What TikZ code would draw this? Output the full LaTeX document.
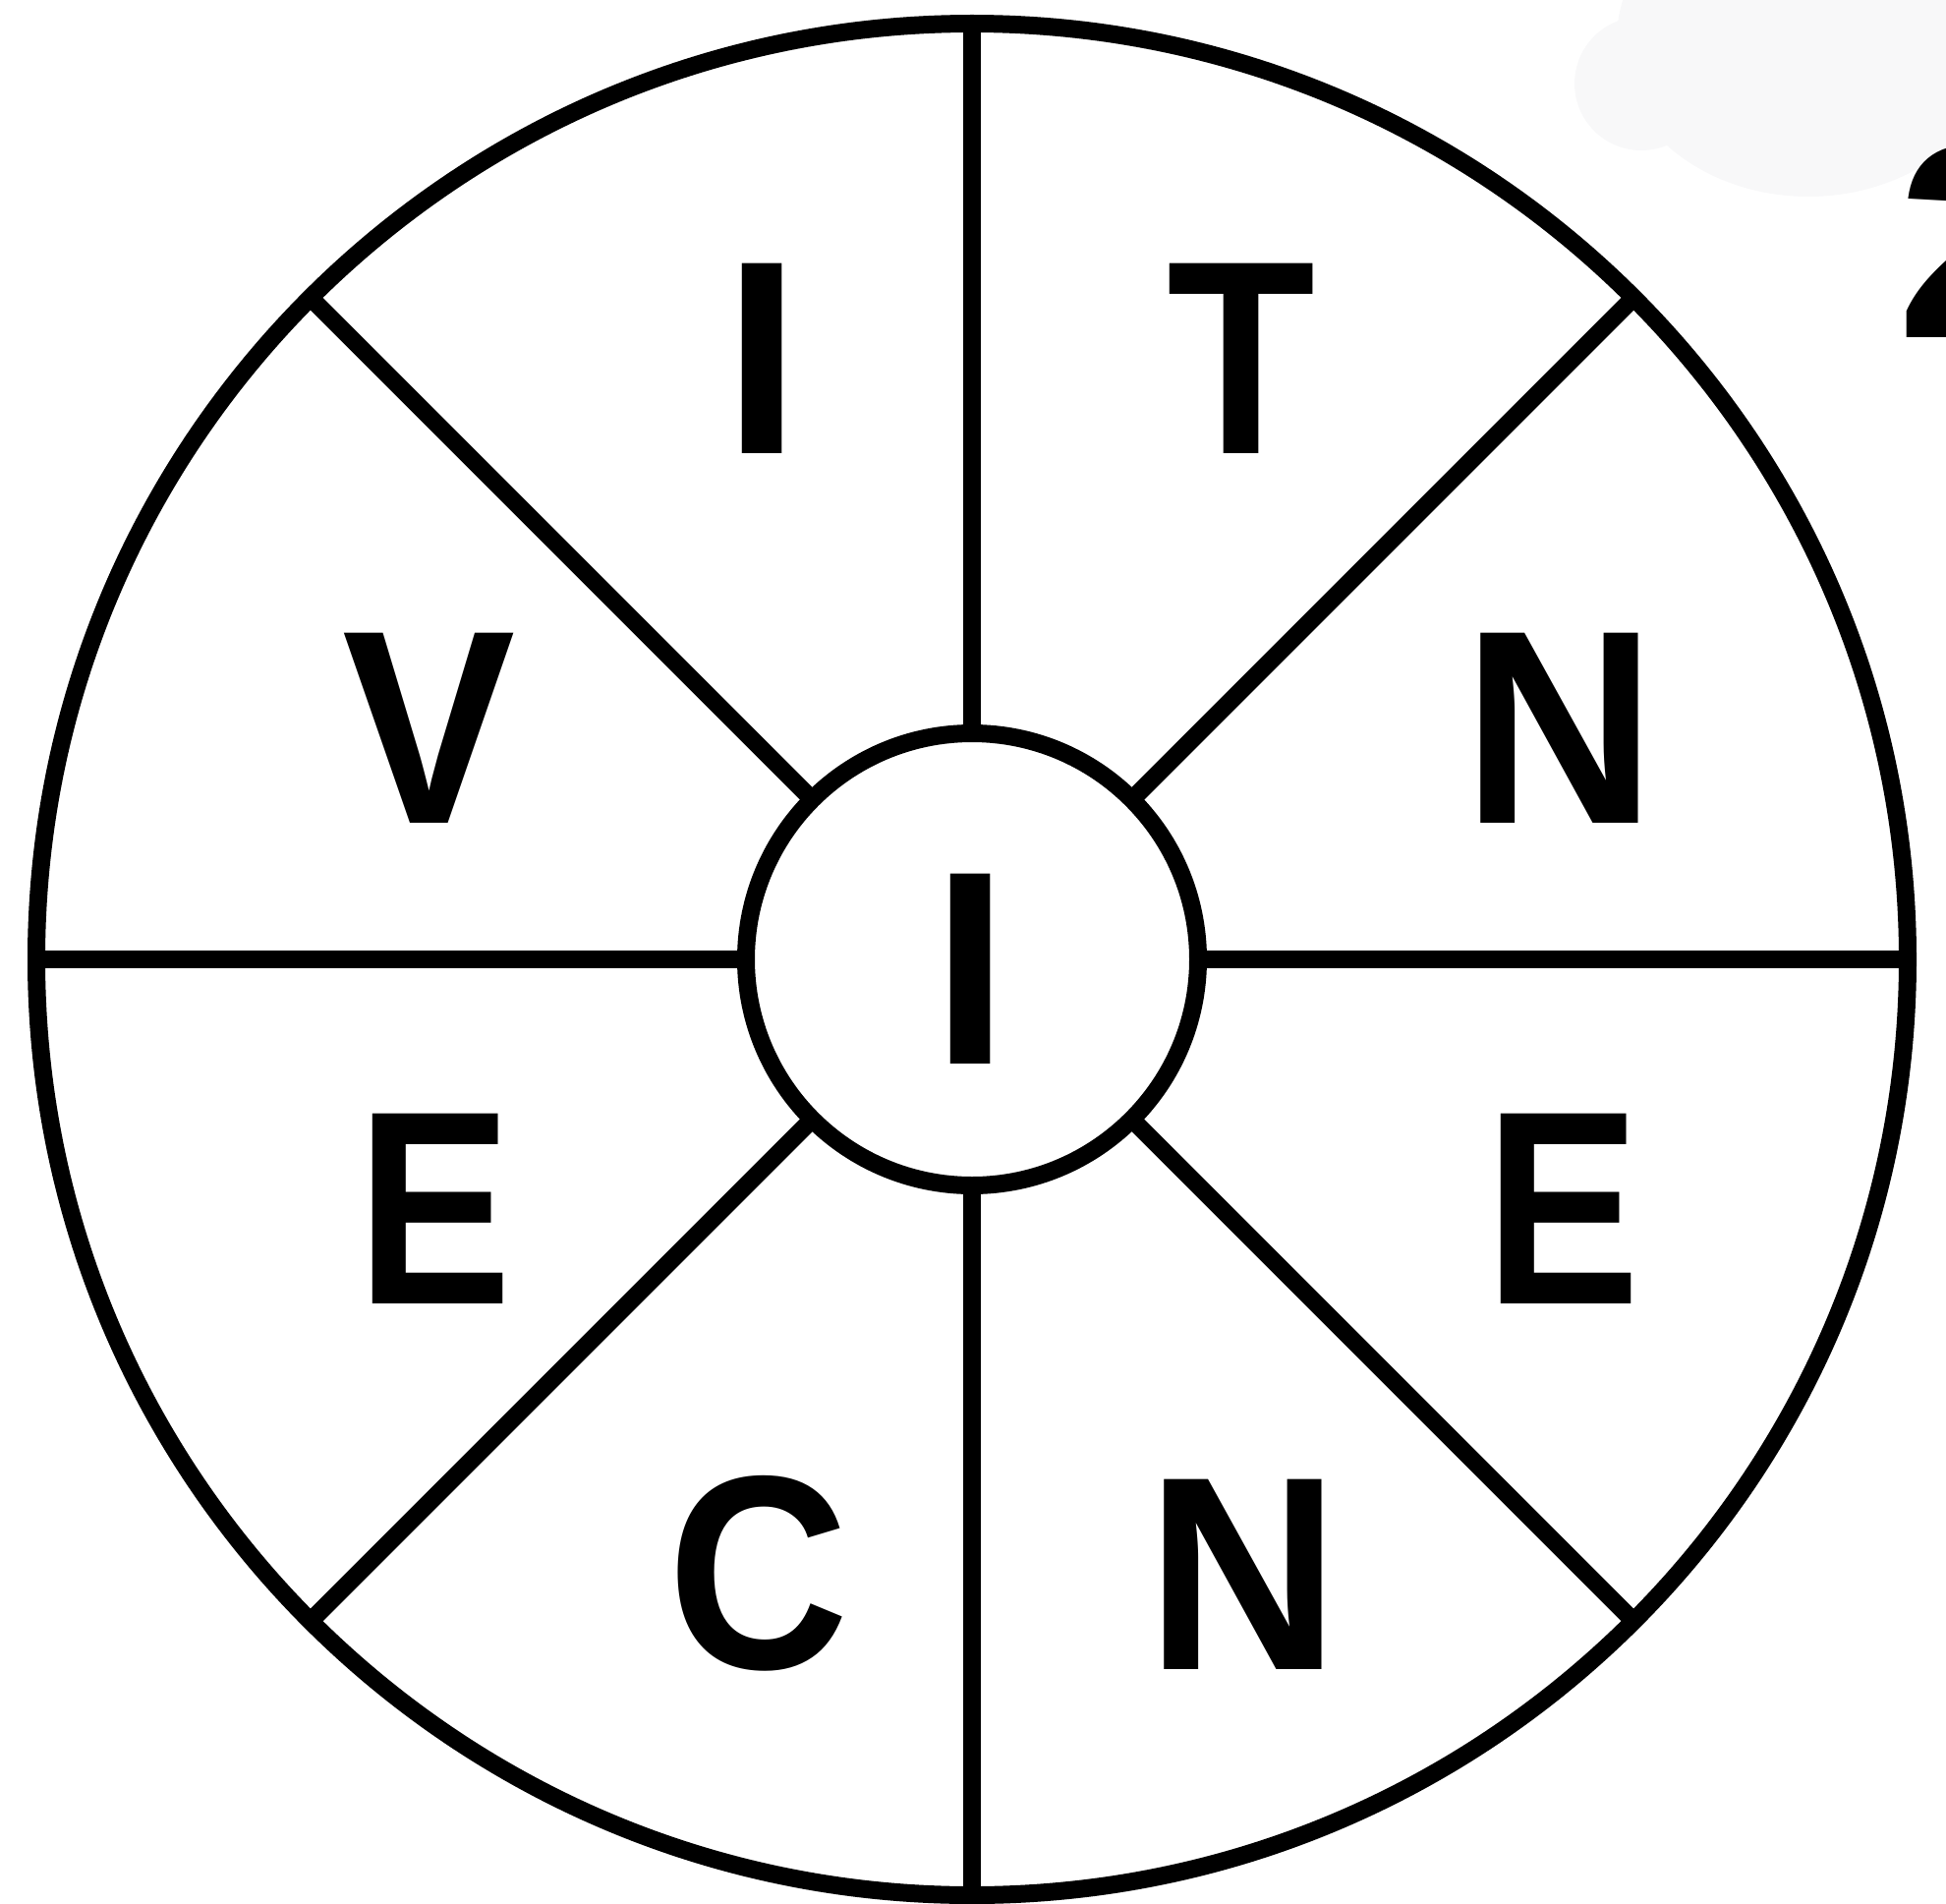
\documentclass[tikz,border=0pt]{standalone}
\usepackage{fontspec}
\usepackage{graphicx}
\setmainfont{Liberation Sans}
\definecolor{blobgray}{RGB}{248,248,249}
\newcommand\lettersq[2]{\scalebox{#1}[1]{#2}}
\begin{document}
\begin{tikzpicture}[x=1pt,y=1pt,
  ring/.style={circle,draw=black,line width=18pt,inner sep=0pt,outer sep=0pt},
  spoke/.style={draw=black,line width=18pt},
  letter/.style={font=\fontsize{281}{281}\selectfont\bfseries,anchor=base,inner sep=0pt}]
\useasboundingbox (0,0) rectangle (1980,-1937);
\clip (0,0) rectangle (1980,-1937);
\fill[blobgray] (1840,-40) ellipse [x radius=195, y radius=160];
\fill[blobgray] (1670,-85) circle [radius=68];
\node[ring,minimum size=1904pt] (outer) at (989,-976) {};
\node[ring,minimum size=460pt] (inner) at (989,-976) {};
\foreach \a in {0,45,...,315} \draw[spoke] (inner.\a) -- (outer.\a);
\node[letter] (lI) at (776,-461) {I};
\node[letter] (lT) at (1263,-461) {\lettersq{0.88}{T}};
\node[letter] (lV) at (437,-837) {\lettersq{0.94}{V}};
\node[letter] (lN1) at (1587,-837) {\lettersq{0.97}{N}};
\node[letter] (lC0) at (988,-1082) {I};
\node[letter] (lE1) at (442,-1326) {\lettersq{0.84}{E}};
\node[letter] (lE2) at (1590,-1326) {\lettersq{0.84}{E}};
\node[letter] (lC) at (772,-1697) {\lettersq{0.91}{C}};
\node[letter] (lN2) at (1265,-1698) {\lettersq{0.97}{N}};
\node[letter,anchor=base west] (two) at (1930,-343) {2};
\end{tikzpicture}
\end{document}
